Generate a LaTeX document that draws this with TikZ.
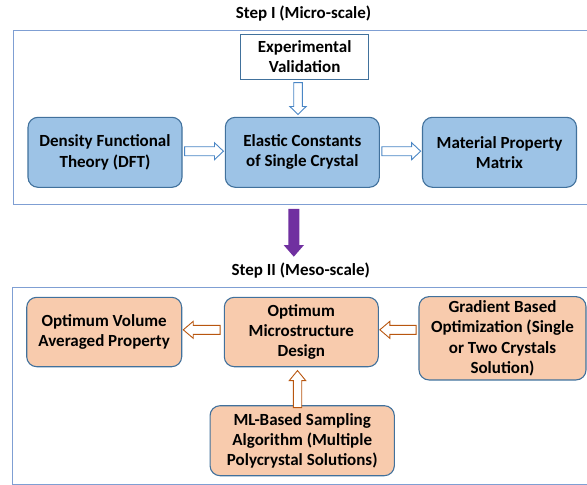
\documentclass[tikz,border=0pt]{standalone}
\usepackage{fontspec}
\setmainfont{Carlito}
\usetikzlibrary{calc}

\definecolor{boxline}{HTML}{41719C}
\definecolor{bluefill}{HTML}{9DC3E6}
\definecolor{orangefill}{HTML}{F8CBAD}
\definecolor{frameline}{HTML}{7F9FD3}
\definecolor{bluearrow}{HTML}{4A86C5}
\definecolor{orangearrow}{HTML}{B8560F}
\definecolor{purplearrow}{HTML}{7030A0}

% hollow block arrow from #2 to #3: #4 half shaft, #5 half head, #6 head length
\newcommand\blockarrow[6]{%
  \path ($(#3)!#6!(#2)$) coordinate (ba-c);
  \draw[#1] ($(#2)!#4!90:(#3)$) -- ($(ba-c)!#4!90:(#3)$)
    -- ($(ba-c)!#5!90:(#3)$) -- (#3) -- ($(ba-c)!#5!-90:(#3)$)
    -- ($(ba-c)!#4!-90:(#3)$) -- ($(#2)!#4!-90:(#3)$) -- cycle;}

\tikzset{
  every node/.style={font=\fontsize{17}{20.3}\selectfont\bfseries, align=center, text=black},
  bluebox/.style={draw=boxline, line width=1.1pt, fill=bluefill, rounded corners=10pt,
    minimum width=154pt, minimum height=70pt, inner sep=0pt},
  orangebox/.style={draw=boxline, line width=1.1pt, fill=orangefill, rounded corners=10pt,
    inner sep=0pt},
  plainbox/.style={draw=boxline, line width=1pt, fill=white, inner sep=0pt},
  frame/.style={draw=frameline, line width=0.9pt, inner sep=0pt},
  title/.style={font=\fontsize{17}{20}\selectfont\bfseries},
  bluehollow/.style={draw=bluearrow, fill=white, line width=0.9pt, line join=miter},
  orangehollow/.style={draw=orangearrow, fill=white, line width=0.9pt, line join=miter},
  purplesolid/.style={draw=none, fill=purplearrow},
}

\begin{document}
\begin{tikzpicture}[x=1pt, y=-1pt]
\useasboundingbox (0,0) rectangle (587,485);
\clip (0,0) rectangle (587,485);

% ---- Step I ----
\node[title] (t1) at (303.5,14) {Step I (Micro-scale)};
\node[frame, minimum width=577pt, minimum height=174.3pt] (f1) at (301.5,117.15) {};

\node[plainbox, minimum width=128pt, minimum height=44.7pt] (exp) at (304.7,56.7)
  {Experimental\\Validation};
\node[bluebox] (dft) at (105,152.3) {Density Functional\\Theory (DFT)};
\node[bluebox] (ec)  at (302.3,152.3) {Elastic Constants\\of Single Crystal};
\node[bluebox] (mpm) at (499.5,152.3) {Material Property\\Matrix};

\coordinate (a1s) at ($(dft.east)+(2,-1.1)$);
\coordinate (a1e) at ($(ec.west)+(-1.3,-1.1)$);
\coordinate (a2s) at ($(ec.east)+(2,-1.1)$);
\coordinate (a2e) at ($(mpm.west)+(-1.3,-1.1)$);
\coordinate (a3s) at ($(exp.south)+(-6.7,3)$);
\coordinate (a3e) at ($(a3s |- ec.north)+(0,-2.3)$);
\blockarrow{bluehollow}{a1s}{a1e}{4.5pt}{8.5pt}{9pt}
\blockarrow{bluehollow}{a2s}{a2e}{4.5pt}{8.5pt}{9pt}
\blockarrow{bluehollow}{a3s}{a3e}{4.3pt}{8.2pt}{8pt}

% ---- transition ----
\coordinate (ps) at ($(f1.south)+(-7.7,4)$);
\coordinate (pe) at (293.8,256.7);
\blockarrow{purplesolid}{ps}{pe}{5.5pt}{10.2pt}{11.7pt}

% ---- Step II ----
\node[title] (t2) at (300.8,270.7) {Step II (Meso-scale)};
\node[frame, minimum width=577.7pt, minimum height=197pt] (f2) at (301.15,385.8) {};

\node[orangebox, minimum width=155pt, minimum height=69.4pt] (ovp) at (104.2,332)
  {Optimum Volume\\Averaged Property};
\node[orangebox, minimum width=154pt, minimum height=69.4pt] (omd) at (301.3,332)
  {Optimum\\Microstructure\\Design};
\node[orangebox, minimum width=167pt, minimum height=83.3pt] (gbo) at (502.5,338.3)
  {Gradient Based\\Optimization (Single\\or Two Crystals\\Solution)};
\node[orangebox, minimum width=184.3pt, minimum height=70pt] (ml) at (302.2,440.7)
  {ML-Based Sampling\\Algorithm (Multiple\\Polycrystal Solutions)};

\coordinate (b1s) at ($(omd.west)+(-3.6,-2.2)$);
\coordinate (b1e) at ($(ovp.east |- b1s)+(1,0)$);
\coordinate (b2s) at ($(gbo.west |- b1s)+(-2.3,0)$);
\coordinate (b2e) at ($(omd.east |- b1s)+(1,0)$);
\coordinate (b3s) at ($(ml.north)+(-4.7,2.4)$);
\coordinate (b3e) at ($(b3s |- omd.south)+(0,3.3)$);
\blockarrow{orangehollow}{b1s}{b1e}{4.5pt}{8.5pt}{10pt}
\blockarrow{orangehollow}{b2s}{b2e}{4.5pt}{8.5pt}{10pt}
\blockarrow{orangehollow}{b3s}{b3e}{4.2pt}{8.2pt}{10pt}
\end{tikzpicture}
\end{document}
